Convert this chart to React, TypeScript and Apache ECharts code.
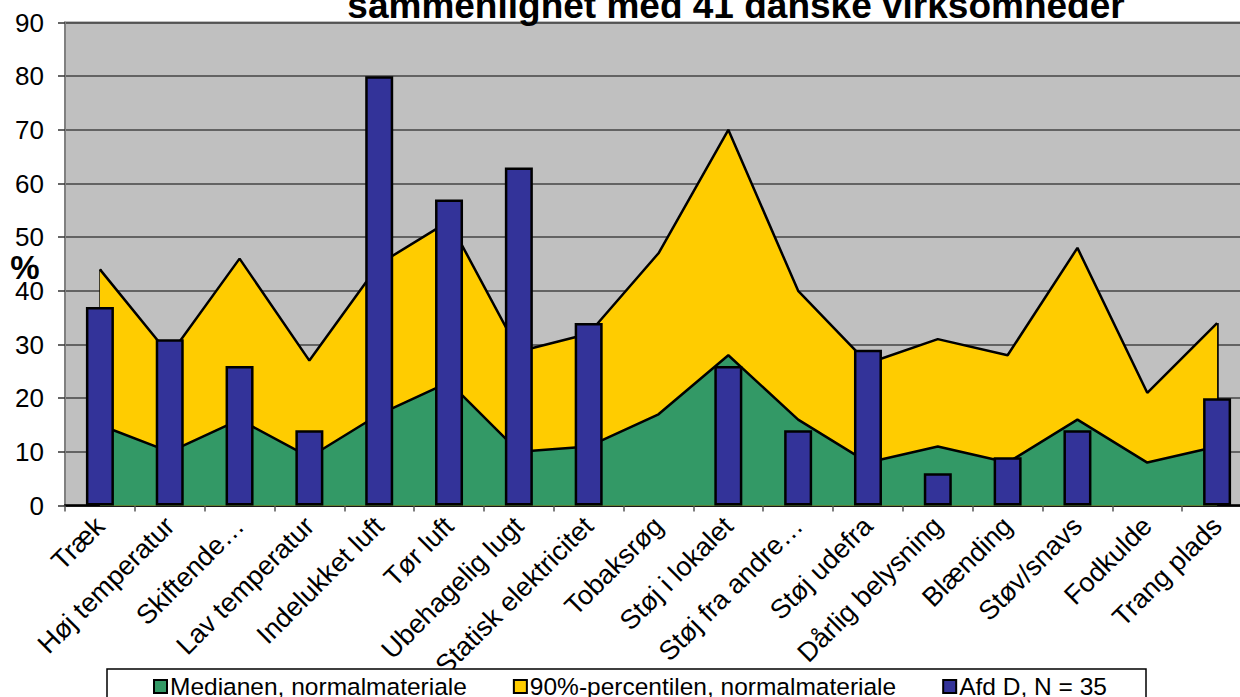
import React, { useEffect, useRef } from "react";
import * as echarts from "echarts";

const categories = [
  "Træk",
  "Høj temperatur",
  "Skiftende…",
  "Lav temperatur",
  "Indelukket luft",
  "Tør luft",
  "Ubehagelig lugt",
  "Statisk elektricitet",
  "Tobaksrøg",
  "Støj i lokalet",
  "Støj fra andre…",
  "Støj udefra",
  "Dårlig belysning",
  "Blænding",
  "Støv/snavs",
  "Fodkulde",
  "Trang plads",
];

const medianValues = [15, 10, 16, 9, 17, 23, 10, 11, 17, 28, 16, 8, 11, 8, 16, 8, 11];
const p90Values = [44, 28, 46, 27, 45, 53, 28.7, 32, 47, 70, 40, 26.5, 31, 28, 48, 21, 34];
const afdValues: (number | null)[] = [37, 31, 26, 14, 80, 57, 63, 34, null, 26, 14, 29, 6, 9, 14, null, 20];

const seriesNames = ["Medianen, normalmateriale", "90%-percentilen, normalmateriale", "Afd D, N = 35"];
const titleText = "sammenlignet med 41 danske virksomheder";
const yAxisName = "%";
const yMin = 0;
const yMax = 90;
const yInterval = 10;

const FONT = "'Liberation Sans', Arial, sans-serif";
const GREEN = "#339966";
const YELLOW = "#FFCC00";
const BLUE = "#333399";

function edgeLines(values: number[]) {
  const last = categories.length - 1;
  return [
    [{ coord: [categories[0], 0] }, { coord: [categories[0], values[0]] }],
    [{ coord: [categories[last], 0] }, { coord: [categories[last], values[last]] }],
  ];
}

export default function App() {
  const ref = useRef<HTMLDivElement>(null);
  useEffect(() => {
    if (!ref.current) return;
    const chart = echarts.init(ref.current, null, { renderer: "svg" });
    const option: any = {
      animation: false,
      backgroundColor: "#ffffff",
      textStyle: { fontFamily: FONT },
      grid: {
        left: 65,
        top: 22.5,
        width: 1187,
        height: 483,
        show: true,
        backgroundColor: "#C0C0C0",
        borderColor: "#808080",
        borderWidth: 2,
        containLabel: false,
        outerBoundsMode: "none",
      },
      xAxis: {
        type: "category",
        data: categories,
        boundaryGap: true,
        axisLine: { show: true, lineStyle: { color: "#000", width: 2.5 } },
        axisTick: { show: true, length: 6, lineStyle: { color: "#555", width: 1.5 }, interval: 0 },
        axisLabel: {
          interval: 0,
          rotate: 45,
          margin: 16,
          color: "#000",
          fontSize: 27,
          fontFamily: FONT,
        },
        splitLine: { show: false },
      },
      yAxis: {
        type: "value",
        min: yMin,
        max: yMax,
        interval: yInterval,
        axisLine: { show: true, lineStyle: { color: "#808080", width: 2 } },
        axisTick: { show: true, length: 7, lineStyle: { color: "#333", width: 1.5 } },
        axisLabel: { color: "#000", fontSize: 26, fontFamily: FONT, margin: 21 },
        splitLine: { show: true, lineStyle: { color: "#444", width: 1.5 } },
      },
      legend: {
        left: 153,
        top: 674,
        padding: 0,
        itemGap: 46,
        itemWidth: 13,
        itemHeight: 13,
        z: 20,
        textStyle: { fontSize: 24.5, color: "#000", fontFamily: FONT, padding: [0, 0, 0, -2] },
        data: [
          { name: seriesNames[0], icon: "rect", itemStyle: { color: GREEN, borderColor: "#000", borderWidth: 2 } },
          { name: seriesNames[1], icon: "rect", itemStyle: { color: YELLOW, borderColor: "#000", borderWidth: 2 } },
          { name: seriesNames[2], icon: "rect", itemStyle: { color: BLUE, borderColor: "#000", borderWidth: 2 } },
        ],
      },
      graphic: [
        {
          type: "rect",
          z: 10,
          shape: { x: 107, y: 669, width: 1039, height: 40 },
          style: { fill: "#ffffff", stroke: "#000", lineWidth: 1.5 },
        },
        {
          type: "text",
          z: 10,
          x: 736,
          y: 5,
          style: {
            text: titleText,
            fill: "#000",
            font: `bold 37px ${FONT}`,
            align: "center",
            verticalAlign: "middle",
          },
        },
        {
          type: "text",
          z: 10,
          x: 25,
          y: 267,
          style: {
            text: yAxisName,
            fill: "#000",
            font: `bold 33px ${FONT}`,
            align: "center",
            verticalAlign: "middle",
          },
        },
      ],
      series: [
        {
          name: seriesNames[1],
          type: "line",
          data: p90Values,
          symbol: "none",
          color: YELLOW,
          itemStyle: { color: YELLOW },
          lineStyle: { color: "#000", width: 2.5 },
          areaStyle: { color: YELLOW, opacity: 1 },
          z: 2,
          markLine: {
            silent: true,
            symbol: "none",
            z: 2,
            label: { show: false },
            lineStyle: { color: "#000", width: 2.5, type: "solid" },
            data: edgeLines(p90Values),
          },
        },
        {
          name: seriesNames[0],
          type: "line",
          data: medianValues,
          symbol: "none",
          color: GREEN,
          itemStyle: { color: GREEN },
          lineStyle: { color: "#000", width: 2.5 },
          areaStyle: { color: GREEN, opacity: 1 },
          z: 3,
        },
        {
          name: seriesNames[2],
          type: "bar",
          data: afdValues,
          barWidth: 28,
          color: BLUE,
          itemStyle: { color: BLUE, borderColor: "#000", borderWidth: 2.5 },
          z: 6,
        },
      ],
    };
    chart.setOption(option);
    return () => chart.dispose();
  }, []);
  return (
    <div
      ref={ref}
      style={{ position: "fixed", left: 0, top: 0, width: 1240, height: 697, background: "#fff" }}
    />
  );
}
